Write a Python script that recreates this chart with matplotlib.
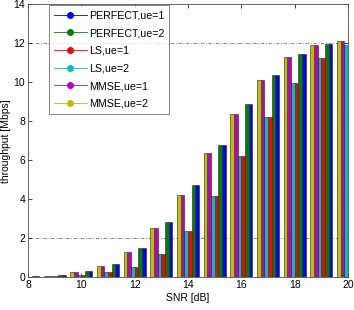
import numpy as np
import matplotlib
matplotlib.use("Agg")
import matplotlib.pyplot as plt
from matplotlib.lines import Line2D

plt.rcParams['font.family'] = ['Liberation Sans', 'DejaVu Sans']

# -----------------------------
# Dados
# -----------------------------
snr = [8, 9, 10, 11, 12, 13, 14, 15, 16, 17, 18, 19, 20]

perfect_ue1 = [0.05, 0.10, 0.30, 0.68, 1.52, 2.82, 4.73, 6.78, 8.88, 10.37, 11.45, 11.96, 12.15]
perfect_ue2 = [0.05, 0.10, 0.30, 0.68, 1.52, 2.82, 4.73, 6.78, 8.88, 10.37, 11.45, 11.96, 12.15]
ls_ue1 = [0.03, 0.07, 0.10, 0.27, 0.53, 1.21, 2.39, 4.17, 6.22, 8.24, 9.95, 11.23, 11.91]
ls_ue2 = [0.03, 0.07, 0.10, 0.27, 0.53, 1.21, 2.39, 4.17, 6.22, 8.24, 9.95, 11.23, 11.91]
mmse_ue1 = [0.05, 0.09, 0.27, 0.58, 1.30, 2.51, 4.22, 6.36, 8.37, 10.12, 11.28, 11.91, 12.12]
mmse_ue2 = [0.05, 0.09, 0.27, 0.58, 1.30, 2.51, 4.22, 6.36, 8.37, 10.12, 11.28, 11.91, 12.12]

labels = ["PERFECT,ue=1", "PERFECT,ue=2", "LS,ue=1", "LS,ue=2", "MMSE,ue=1", "MMSE,ue=2"]
series = [perfect_ue1, perfect_ue2, ls_ue1, ls_ue2, mmse_ue1, mmse_ue2]
cores = [(0, 0, 1), (0, 0.5, 0), (1, 0, 0), (0, 0.75, 0.75), (0.75, 0, 0.75), (0.75, 0.75, 0)]

# -----------------------------
# Figura
# -----------------------------
fig = plt.figure(figsize=(3.54, 3.10), dpi=100)
ax = fig.add_axes([0.079, 0.1055, 0.904, 0.881])

x = np.array(snr, dtype=float)
largura = 0.138
n = len(series)
for i, (vals, cor) in enumerate(zip(series, cores)):
    # ordem dentro do grupo: MMSE,ue=2 à esquerda ... PERFECT,ue=1 à direita
    desloc = ((n - 1) / 2 - i) * largura
    ax.bar(x + desloc, vals, width=largura, color=cor, edgecolor=(0.15, 0.15, 0.15),
           linewidth=0.4, zorder=2)

# linhas de grade visíveis
for yg in [2, 12]:
    ax.axhline(yg, color=(0.45, 0.45, 0.45), linestyle=(0, (4, 2, 1, 2)), linewidth=0.6, zorder=1)

ax.set_xlim(8, 20)
ax.set_ylim(0, 14)
ax.set_xticks([8, 10, 12, 14, 16, 18, 20])
ax.set_yticks([0, 2, 4, 6, 8, 10, 12, 14])
ax.tick_params(direction='in', length=3, width=0.5, labelsize=7.5, top=True, right=True, pad=2)
for s in ax.spines.values():
    s.set_linewidth(0.6)
    s.set_color((0.3, 0.3, 0.3))

ax.set_xlabel("SNR [dB]", fontsize=7.5, labelpad=2)
ax.set_ylabel("throughput [Mbps]", fontsize=7.5, labelpad=2)

# Legenda com linha + marcador
handles = [Line2D([0], [0], color=c, linewidth=0.6, marker='o', markersize=4,
                  markerfacecolor=c, markeredgecolor=c) for c in cores]
leg = ax.legend(handles, labels, loc='upper left', bbox_to_anchor=(0.066, 0.997),
                fontsize=7.7, frameon=True, fancybox=False, edgecolor=(0.3, 0.3, 0.3),
                handlelength=3.0, handletextpad=0.2, labelspacing=0.72,
                borderpad=0.5, borderaxespad=0)
leg.get_frame().set_linewidth(0.6)
leg.set_zorder(5)

plt.savefig("out.png", dpi=100)
plt.close()
